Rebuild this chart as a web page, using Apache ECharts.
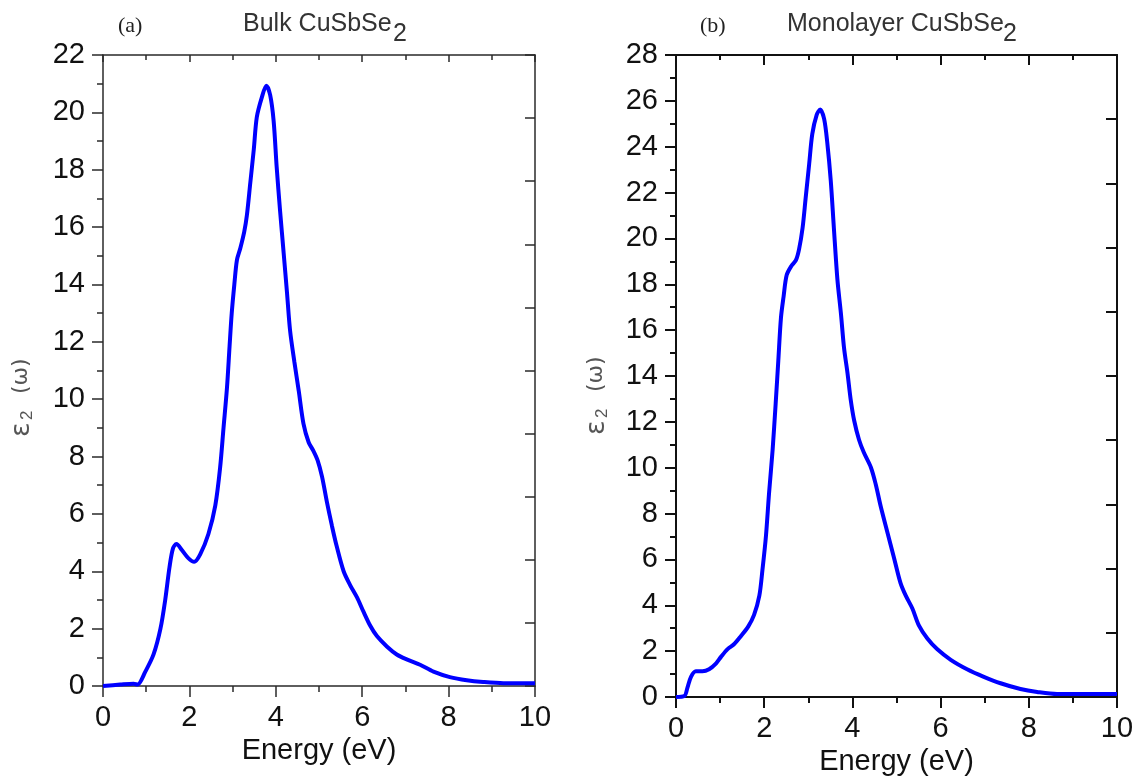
<!DOCTYPE html>
<html>
<head>
<meta charset="utf-8">
<script src="https://cdn.jsdelivr.net/npm/echarts@6/dist/echarts.min.js"></script>
<style>
html,body{margin:0;padding:0;background:#fff;}
#chart{width:1143px;height:783px;}
</style>
</head>
<body>
<div id="chart"></div>
<script>
// Bulk CuSbSe2 (panel a)
const bulkEnergy = [0, 0.4, 0.71, 0.8, 0.98, 1.17, 1.33, 1.44, 1.54, 1.62, 1.70, 1.83, 1.98, 2.11, 2.25, 2.44, 2.6, 2.71, 2.79, 2.87, 2.93, 2.98, 3.04, 3.1, 3.18, 3.27, 3.33, 3.41, 3.49, 3.56, 3.68, 3.78, 3.87, 3.95, 4.02, 4.1, 4.18, 4.26, 4.33, 4.43, 4.53, 4.64, 4.76, 4.87, 4.97, 5.07, 5.18, 5.3, 5.41, 5.57, 5.72, 5.88, 6.03, 6.19, 6.34, 6.57, 6.8, 7.03, 7.34, 7.65, 8.03, 8.42, 8.8, 9.27, 10];
const bulkEps    = [0, 0.05, 0.08, 0.05, 0.5, 1.1, 2.0, 3.0, 4.15, 4.8, 4.95, 4.73, 4.45, 4.33, 4.59, 5.3, 6.3, 7.6, 9.0, 10.4, 11.85, 13.0, 14.0, 14.85, 15.27, 15.84, 16.4, 17.55, 18.7, 19.83, 20.54, 20.93, 20.6, 19.7, 18.1, 16.55, 15.13, 13.7, 12.4, 11.3, 10.3, 9.15, 8.5, 8.2, 7.86, 7.3, 6.44, 5.58, 4.87, 4.0, 3.52, 3.09, 2.59, 2.09, 1.74, 1.38, 1.1, 0.93, 0.74, 0.5, 0.31, 0.2, 0.14, 0.1, 0.1];

// Monolayer CuSbSe2 (panel b)
const monoEnergy = [0, 0.19, 0.26, 0.34, 0.45, 0.6, 0.75, 0.91, 1.02, 1.17, 1.32, 1.47, 1.64, 1.77, 1.89, 1.96, 2.04, 2.11, 2.19, 2.26, 2.32, 2.38, 2.44, 2.51, 2.62, 2.72, 2.79, 2.87, 2.94, 3.02, 3.09, 3.19, 3.27, 3.36, 3.43, 3.51, 3.58, 3.66, 3.74, 3.81, 3.89, 3.96, 4.04, 4.15, 4.26, 4.42, 4.53, 4.64, 4.79, 4.94, 5.09, 5.21, 5.36, 5.51, 5.7, 5.92, 6.23, 6.6, 6.98, 7.36, 7.81, 8.19, 8.64, 10];
const monoEps    = [0, 0.04, 0.41, 0.88, 1.12, 1.12, 1.21, 1.47, 1.75, 2.09, 2.31, 2.65, 3.08, 3.58, 4.42, 5.54, 7.03, 8.89, 10.76, 12.8, 14.67, 16.54, 17.47, 18.4, 18.81, 19.05, 19.52, 20.45, 21.76, 23.25, 24.55, 25.39, 25.62, 25.2, 24.18, 22.5, 20.45, 18.21, 16.72, 15.23, 14.11, 12.99, 12.06, 11.22, 10.66, 10.01, 9.27, 8.33, 7.21, 6.1, 4.98, 4.42, 3.86, 3.11, 2.55, 2.09, 1.62, 1.21, 0.88, 0.6, 0.35, 0.22, 0.13, 0.13];

const xTicks = {min: 0, max: 10, interval: 2};
const bulkY = {min: 0, max: 22, interval: 2};
const monoY = {min: 0, max: 28, interval: 2};

const FONT = '"Liberation Sans", Arial, sans-serif';

function zip(a, b) { return a.map((v, i) => [v, b[i]]); }

function axisSet(gi, yr, lw, lc, topMaj, rightMaj) {
  const lab = {fontSize: 29, color: '#111', fontFamily: FONT};
  return {
    x: [
      {gridIndex: gi, type: 'value', position: 'bottom', min: xTicks.min, max: xTicks.max, interval: xTicks.interval,
       axisLine: {show: true, onZero: false, lineStyle: {color: lc, width: lw}},
       axisTick: {show: true, length: 11, lineStyle: {color: lc, width: lw}},
       minorTick: {show: true, splitNumber: 2, length: 6, lineStyle: {color: lc, width: lw}},
       axisLabel: Object.assign({margin: 17}, lab),
       splitLine: {show: false},
       name: 'Energy (eV)', nameLocation: 'middle', nameGap: 50,
       nameTextStyle: {fontSize: 29, color: '#111', fontFamily: FONT}},
      {gridIndex: gi, type: 'value', position: 'top', min: xTicks.min, max: xTicks.max, interval: xTicks.interval,
       axisLine: {show: true, onZero: false, lineStyle: {color: lc, width: lw}},
       axisTick: {show: true, inside: true, length: topMaj, lineStyle: {color: lc, width: lw}},
       minorTick: {show: true, splitNumber: 2, length: 5, lineStyle: {color: lc, width: lw}},
       axisLabel: {show: false}, splitLine: {show: false}}
    ],
    y: [
      {gridIndex: gi, type: 'value', position: 'left', min: yr.min, max: yr.max, interval: yr.interval,
       axisLine: {show: true, onZero: false, lineStyle: {color: lc, width: lw}},
       axisTick: {show: true, length: 11, lineStyle: {color: lc, width: lw}},
       minorTick: {show: true, splitNumber: 2, length: 6, lineStyle: {color: lc, width: lw}},
       axisLabel: Object.assign({margin: 18}, lab),
       splitLine: {show: false}},
      {gridIndex: gi, type: 'value', position: 'right', min: 0, max: 20, interval: 2,
       axisLine: {show: true, onZero: false, lineStyle: {color: lc, width: lw}},
       axisTick: {show: true, inside: true, length: rightMaj, lineStyle: {color: lc, width: lw}},
       axisLabel: {show: false}, splitLine: {show: false}}
    ]
  };
}

const a = axisSet(0, bulkY, 1.5, '#2a2a2a', 7, 10);
const b = axisSet(1, monoY, 2, '#111', 10, 11);

function yLabel(x, y) {
  return {
    type: 'group', x: x, y: y, rotation: Math.PI / 2,
    children: [
      {type: 'text', x: 0, y: 0, style: {text: 'ε', fontSize: 27, fill: '#555', fontFamily: '"DejaVu Sans", sans-serif', textAlign: 'left', textVerticalAlign: 'middle'}},
      {type: 'text', x: 17, y: 5, style: {text: '2', fontSize: 17, fill: '#555', fontFamily: FONT, textAlign: 'left', textVerticalAlign: 'middle'}},
      {type: 'text', x: 43, y: -1, style: {text: '(ω)', fontSize: 22, fill: '#555', fontFamily: '"DejaVu Sans", sans-serif', textAlign: 'left', textVerticalAlign: 'middle'}}
    ]
  };
}

function title(xp, tag, xt, text, x2) {
  return [
    {type: 'text', x: xp, y: 26, style: {text: tag, fontSize: 22, fill: '#222', fontFamily: '"Liberation Serif", "Times New Roman", serif', textAlign: 'left', textVerticalAlign: 'middle'}},
    {type: 'text', x: xt, y: 24, style: {text: text, fontSize: 25, fill: '#333', fontFamily: FONT, textAlign: 'left', textVerticalAlign: 'middle'}},
    {type: 'text', x: x2, y: 34, style: {text: '2', fontSize: 25, fill: '#333', fontFamily: FONT, textAlign: 'left', textVerticalAlign: 'middle'}}
  ];
}

const option = {
  backgroundColor: '#fff',
  animation: false,
  grid: [
    {left: 103, right: 1143 - 535, top: 55, bottom: 783 - 686, containLabel: false},
    {left: 676, right: 1143 - 1117, top: 55, bottom: 783 - 697, containLabel: false}
  ],
  xAxis: a.x.concat(b.x),
  yAxis: a.y.concat(b.y),
  series: [
    {type: 'line', xAxisIndex: 0, yAxisIndex: 0, data: zip(bulkEnergy, bulkEps), showSymbol: false, smooth: 0.3,
     lineStyle: {color: '#0000ff', width: 4}, itemStyle: {color: '#0000ff'}},
    {type: 'line', xAxisIndex: 2, yAxisIndex: 2, data: zip(monoEnergy, monoEps), showSymbol: false, smooth: 0.3,
     lineStyle: {color: '#0000ff', width: 4}, itemStyle: {color: '#0000ff'}}
  ],
  graphic: [].concat(
    title(118, '(a)', 243, 'Bulk CuSbSe', 393),
    title(700, '(b)', 787, 'Monolayer CuSbSe', 1003),
    [yLabel(22, 437), yLabel(597, 435)]
  )
};

const chart = echarts.init(document.getElementById('chart'), null, {renderer: 'canvas'});
chart.setOption(option);
</script>
</body>
</html>
